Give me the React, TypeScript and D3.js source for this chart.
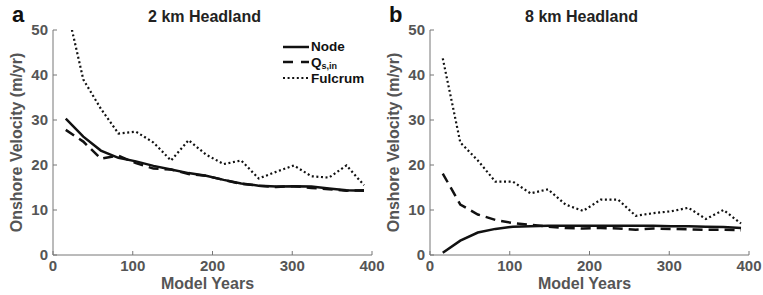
import React from "react";
import * as d3 from "d3";

// model output years (same for every series)
const years = [16, 38, 60, 82, 104, 126, 148, 170, 192, 214, 236, 258, 280, 302, 324, 346, 368, 390];

// 2 km headland
const nodeA = [30.3, 26.3, 23.2, 21.6, 20.8, 19.8, 19.0, 18.2, 17.6, 16.7, 15.9, 15.4, 15.2, 15.3, 15.2, 14.8, 14.4, 14.3];
const qsA = [27.8, 25.2, 21.4, 22.1, 20.4, 19.2, 19.0, 18.0, 17.6, 16.7, 15.8, 15.4, 15.1, 15.3, 14.9, 14.6, 14.3, 14.4];
const fulcrumA = [56, 39, 32.5, 27, 27.4, 25, 21, 25.5, 22.3, 20.2, 21, 17, 18.5, 19.9, 17.5, 17.2, 19.9, 15.5];

// 8 km headland
const nodeB = [0.5, 3.2, 5.0, 5.8, 6.3, 6.4, 6.5, 6.5, 6.5, 6.5, 6.5, 6.5, 6.5, 6.4, 6.4, 6.3, 6.2, 6.0];
const qsB = [18.1, 11.2, 9.0, 7.8, 7.1, 6.7, 6.3, 6.0, 5.9, 6.0, 5.9, 5.6, 5.9, 5.8, 5.7, 5.6, 5.6, 5.5];
const fulcrumB = [43.7, 25, 21, 16.3, 16.3, 13.7, 14.6, 11.2, 9.8, 12.3, 12.3, 8.7, 9.3, 9.7, 10.5, 8, 10, 7];

const xTicks = [0, 100, 200, 300, 400];
const yTicks = [0, 10, 20, 30, 40, 50];

const FONT = "'Liberation Sans', Arial, Helvetica, sans-serif";
const AXIS = "#777";
const LABEL = "#555";

const styles = {
  node: { dash: "none", width: 2.5 },
  qs: { dash: "10,6", width: 2.5 },
  fulcrum: { dash: "2,2.6", width: 2.2 },
};

type PanelProps = {
  left: number;
  letter: string;
  title: string;
  node: number[];
  qs: number[];
  fulcrum: number[];
  legend?: boolean;
};

function Panel({ left, letter, title, node, qs, fulcrum, legend }: PanelProps) {
  const top = 30;
  const bottom = 255;
  const x = d3.scaleLinear().domain([0, 400]).range([left, left + 319]);
  const y = d3.scaleLinear().domain([0, 50]).range([bottom, top]);
  const line = d3
    .line<number>()
    .x((_, i) => x(years[i]))
    .y((v) => y(v));
  const clipId = "clip-" + letter;
  const series = [
    { vals: fulcrum, s: styles.fulcrum },
    { vals: qs, s: styles.qs },
    { vals: node, s: styles.node },
  ];

  return (
    <g fontFamily={FONT} fontWeight="bold">
      <defs>
        <clipPath id={clipId}>
          <rect x={left} y={top} width={330} height={bottom - top} />
        </clipPath>
      </defs>
      <text x={left - 41} y={22} fontSize={22} fill="#111">
        {letter}
      </text>
      <text x={x(200) - 8} y={22} fontSize={16} textAnchor="middle" fill="#222">
        {title}
      </text>

      {/* axes */}
      <line x1={x(0)} x2={x(400)} y1={bottom} y2={bottom} stroke={AXIS} strokeWidth={1} />
      <line x1={x(0)} x2={x(0)} y1={bottom} y2={top} stroke={AXIS} strokeWidth={1} />
      {xTicks.map((t) => (
        <g key={"x" + t}>
          <line x1={x(t)} x2={x(t)} y1={bottom} y2={bottom - 4} stroke={AXIS} />
          <text x={x(t)} y={bottom + 16} fontSize={15} textAnchor="middle" fill={LABEL}>
            {t}
          </text>
        </g>
      ))}
      {yTicks.map((t) => (
        <g key={"y" + t}>
          <line x1={x(0)} x2={x(0) + 4} y1={y(t)} y2={y(t)} stroke={AXIS} />
          <text x={x(0) - 5} y={y(t) + 5} fontSize={15} textAnchor="end" fill={LABEL}>
            {t}
          </text>
        </g>
      ))}
      <text x={x(200) - 5} y={289} fontSize={16} textAnchor="middle" fill={LABEL}>
        Model Years
      </text>
      <text
        transform={`translate(${left - 31},${(top + bottom) / 2}) rotate(-90)`}
        fontSize={16}
        textAnchor="middle"
        fill={LABEL}
      >
        Onshore Velocity (m/yr)
      </text>

      <g clipPath={`url(#${clipId})`}>
        {series.map((d, i) => (
          <path
            key={i}
            d={line(d.vals) || ""}
            fill="none"
            stroke="#111"
            strokeWidth={d.s.width}
            strokeDasharray={d.s.dash}
          />
        ))}
      </g>

      {legend && (
        <g fontSize={13.5} fill="#111">
          <line x1={283} x2={309} y1={47} y2={47} stroke="#111" strokeWidth={2.5} />
          <text x={311} y={51}>Node</text>
          <line x1={283} x2={309} y1={62} y2={62} stroke="#111" strokeWidth={2.5} strokeDasharray="10,8" />
          <text x={311} y={67}>
            Q<tspan fontSize={9} dy={2}>s,in</tspan>
          </text>
          <line x1={283} x2={309} y1={78} y2={78} stroke="#111" strokeWidth={2.2} strokeDasharray="2,2.6" />
          <text x={311} y={83}>Fulcrum</text>
        </g>
      )}
    </g>
  );
}

export default function App() {
  return (
    <svg
      width={763}
      height={295}
      style={{ position: "absolute", left: 0, top: 0, background: "#fff" }}
    >
      <rect width={763} height={295} fill="#fff" />
      <Panel left={53} letter="a" title="2 km Headland" node={nodeA} qs={qsA} fulcrum={fulcrumA} legend />
      <Panel left={430} letter="b" title="8 km Headland" node={nodeB} qs={qsB} fulcrum={fulcrumB} />
    </svg>
  );
}
